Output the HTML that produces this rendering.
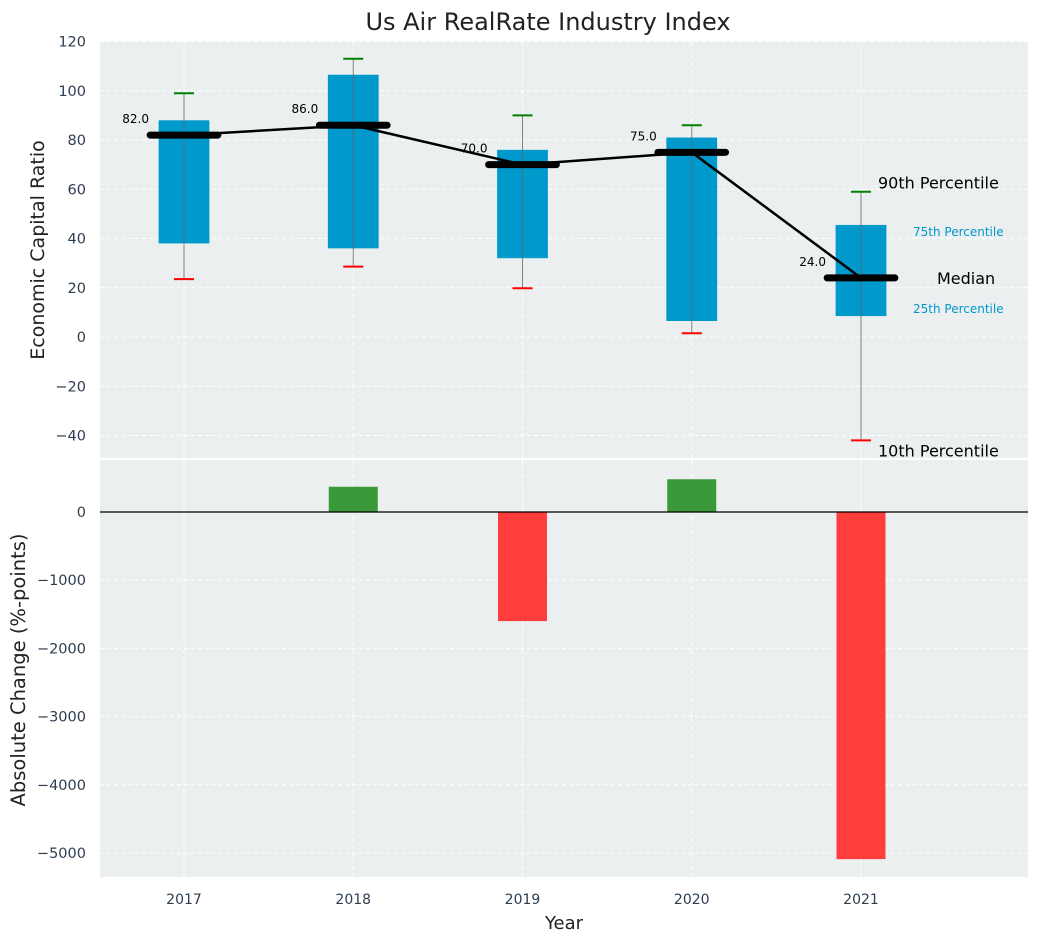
<!DOCTYPE html>
<html><head><meta charset="utf-8"><style>
body{margin:0;background:#fff;}
svg{display:block;font-family:"DejaVu Sans","Liberation Sans",sans-serif;}
</style></head><body>
<svg id="c" width="1039" height="942" xmlns="http://www.w3.org/2000/svg"></svg>
<script>
const years=[2017,2018,2019,2020,2021];
const p10=[23.5,28.6,19.8,1.5,-42];
const p25=[38,36,32,6.5,8.5];
const med=[82,86,70,75,24];
const p75=[88,106.5,76,81,45.5];
const p90=[99,113,90,86,59];
const changes=[0,370,-1600,480,-5090];
const topTicks=[-40,-20,0,20,40,60,80,100,120];
const botTicks=[-5000,-4000,-3000,-2000,-1000,0];

const NS="http://www.w3.org/2000/svg";
const svg=document.getElementById('c');
function el(t,a,p){const e=document.createElementNS(NS,t);for(const k in a)e.setAttribute(k,a[k]);(p||svg).appendChild(e);return e;}
function tx(x,y,s,a){const e=el('text',Object.assign({x:x,y:y},a));e.textContent=s;return e;}
const L=100,R=1028;
const X=v=>184+(v-2017)*169.25;
const YT=v=>337-v*2.4625;
const YB=v=>512-v*0.0682;
const T1=41,B1=458,T2=460,B2=877;
const bg1=el('rect',{x:L,y:T1,width:R-L,height:B1-T1,fill:'#ebefef'});


const bg2=el('rect',{x:L,y:T2,width:R-L,height:B2-T2,fill:'#ebefef'});


topTicks.forEach(t=>{el('line',{x1:L,x2:R,y1:YT(t),y2:YT(t),stroke:'#fff','stroke-dasharray':'4,3','stroke-width':1});
 const lb=tx(86,YT(t)+5,t<0?'\u2212'+(-t):String(t),{'text-anchor':'end','font-size':14.5,fill:'#2c3e50'});
 
 });
botTicks.forEach(t=>{el('line',{x1:L,x2:R,y1:YB(t),y2:YB(t),stroke:'#fff','stroke-dasharray':'4,3','stroke-width':1});
 const lb=tx(86,YB(t)+5,t<0?'\u2212'+(-t):String(t),{'text-anchor':'end','font-size':14.5,fill:'#2c3e50'});
 
 });
years.forEach(y=>{el('line',{x1:X(y),x2:X(y),y1:T1,y2:B1,stroke:'#fff','stroke-dasharray':'4,3'});
 el('line',{x1:X(y),x2:X(y),y1:T2,y2:B2,stroke:'#fff','stroke-dasharray':'4,3'});
 const lb=tx(X(y),904,String(y),{'text-anchor':'middle','font-size':14,fill:'#2c3e50'});
 
 });
const bw=0.3*169.25,mw=0.4*169.25;
years.forEach((y,i)=>{
 const cx=X(y);
 const b=el('rect',{x:cx-bw/2,y:YT(p75[i]),width:bw,height:YT(p25[i])-YT(p75[i]),fill:'#0099cc'});
 
 
 el('line',{x1:cx,x2:cx,y1:YT(p10[i]),y2:YT(p90[i]),stroke:'#666','stroke-width':1,opacity:0.8});
 el('line',{x1:cx-10,x2:cx+10,y1:YT(p90[i]),y2:YT(p90[i]),stroke:'green','stroke-width':2});
 el('line',{x1:cx-10,x2:cx+10,y1:YT(p10[i]),y2:YT(p10[i]),stroke:'red','stroke-width':2});
 const m=el('line',{x1:cx-mw/2,x2:cx+mw/2,y1:YT(med[i]),y2:YT(med[i]),stroke:'#000','stroke-width':7,'stroke-linecap':'round'});
 
 
 const lb=tx(cx-35,YT(med[i])-12,med[i].toFixed(1),{'text-anchor':'end','font-size':12,fill:'#000'});
 
 
});
const ml=el('polyline',{points:years.map((y,i)=>X(y)+','+YT(med[i])).join(' '),fill:'none',stroke:'#000','stroke-width':2.5});


const li=4,cx=X(years[li]);
[[ '90th Percentile',cx+17,YT(p90[li])-3,16,'#000'],['75th Percentile',cx+52,YT(p75[li])+11,12,'#0099cc'],['Median',cx+76,YT(med[li])+6,16,'#000'],['25th Percentile',cx+52,YT(p25[li])-3,12,'#0099cc'],['10th Percentile',cx+17,YT(p10[li])+16,16,'#000']].forEach(a=>{
 const t=tx(a[1],a[2],a[0],{'font-size':a[3],fill:a[4]});
 
 });
years.forEach((y,i)=>{
 const v=changes[i];if(v===0)return;
 const b=el('rect',{x:X(y)-24.5,y:Math.min(YB(v),YB(0)),width:49,height:Math.abs(YB(v)-YB(0)),fill:v>0?'#3a9a3a':'#ff3d3d'});
 
 
});
el('line',{x1:L,x2:R,y1:YB(0),y2:YB(0),stroke:'#000','stroke-width':1.2});
const t=tx(548,30,'Us Air RealRate Industry Index',{'text-anchor':'middle','font-size':24,fill:'#222'});


const xt=tx(564,929,'Year',{'text-anchor':'middle','font-size':18,fill:'#222'});


const y1=tx(0,0,'Economic Capital Ratio',{'text-anchor':'middle','font-size':19,fill:'#222',transform:'translate(44,250) rotate(-90)'});


const y2=tx(0,0,'Absolute Change (%-points)',{'text-anchor':'middle','font-size':19.5,fill:'#222',transform:'translate(25,670) rotate(-90)'});


</script>
</body></html>
